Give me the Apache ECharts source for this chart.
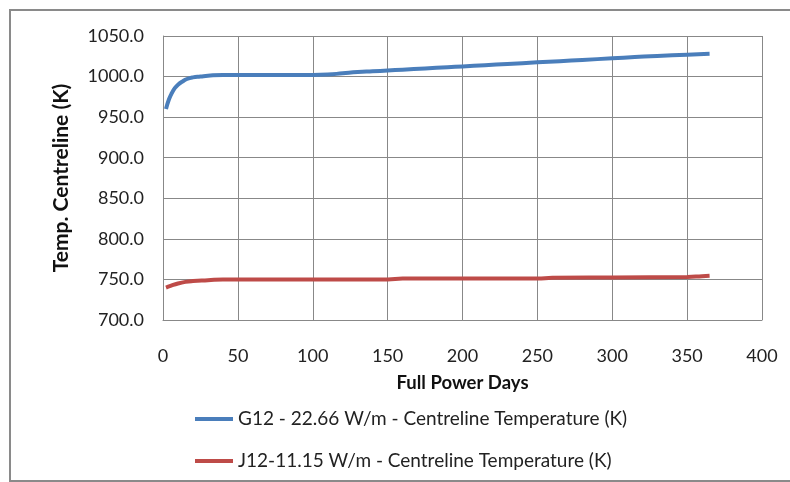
<!DOCTYPE html>
<html>
<head>
<meta charset="utf-8">
<script src="https://cdn.jsdelivr.net/npm/echarts@6/dist/echarts.min.js"></script>
<style>html,body{margin:0;padding:0;background:#fff}#c{width:790px;height:482px}</style>
</head>
<body>
<div id="c"></div>
<script>
var seriesNames = ['G12 - 22.66 W/m - Centreline Temperature (K)', 'J12-11.15 W/m - Centreline Temperature (K)'];
var g12Days = [2,4,6,8,10,13,16,20,25,30,40,50,60,80,100,110,120,130,140,150,160,175,190,200,215,230,250,265,280,300,315,330,350,365];
var g12Temp = [960,972,980,986,990,994,997,999,1000,1001,1002,1002,1002,1002,1002,1002.5,1004,1005.5,1006.5,1007.5,1008.5,1010,1011.5,1012.5,1014,1015.5,1017.5,1019,1020.5,1022.5,1024,1025.5,1027,1028];
var j12Days = [2,5,10,15,20,30,40,50,100,150,160,200,250,260,300,350,360,365];
var j12Temp = [740,742,745,747,748,749,750,750,750,750,751,751,751,752,752.5,753,754,754.5];
var xTicks = {min:0, max:400, interval:50};
var yTicks = {min:700, max:1050, interval:50};

function pairs(xs, ys){ return xs.map(function(x,i){return [x, ys[i]];}); }
var font = 'Lato, "Open Sans", sans-serif';
var chart = echarts.init(document.getElementById('c'), null, {renderer:'canvas'});
chart.setOption({
  animation:false,
  backgroundColor:'#fff',
  textStyle:{fontFamily:font},
  graphic:[{type:'rect', shape:{x:10,y:10,width:800,height:471}, style:{fill:'none', stroke:'#8a8a8a', lineWidth:2}, silent:true}],
  grid:{left:163, right:28, top:36, bottom:162, containLabel:false},
  legend:{
    orient:'vertical', left:195, top:408, padding:0, itemWidth:38, itemHeight:4, itemGap:20, icon:'rect',
    textStyle:{fontSize:19, color:'#222', fontFamily:font, lineHeight:22},
    data:seriesNames
  },
  xAxis:{
    type:'value', min:xTicks.min, max:xTicks.max, interval:xTicks.interval,
    name:'Full Power Days', nameLocation:'middle', nameGap:54,
    nameTextStyle:{fontSize:18.5, fontWeight:'bold', color:'#111', fontFamily:font},
    axisLine:{show:true, lineStyle:{color:'#888'}}, axisTick:{show:false},
    axisLabel:{fontSize:18, color:'#222', margin:27, fontFamily:font},
    splitLine:{show:true, lineStyle:{color:'#888', width:1}}
  },
  yAxis:{
    type:'value', min:yTicks.min, max:yTicks.max, interval:yTicks.interval,
    name:'Temp. Centreline (K)', nameLocation:'middle', nameGap:91, nameRotate:90,
    nameTextStyle:{fontSize:21, fontWeight:'bold', color:'#111', fontFamily:font},
    axisLine:{show:true, lineStyle:{color:'#888'}}, axisTick:{show:false},
    axisLabel:{fontSize:18, color:'#222', margin:19, fontFamily:font, formatter:function(v){return v.toFixed(1);}},
    splitLine:{show:true, lineStyle:{color:'#888', width:1}}
  },
  series:[
    {name:seriesNames[0], type:'line', data:pairs(g12Days,g12Temp), smooth:true, showSymbol:false, symbol:'none',
     lineStyle:{color:'#4A7EBB', width:4}, itemStyle:{color:'#4A7EBB'}},
    {name:seriesNames[1], type:'line', data:pairs(j12Days,j12Temp), smooth:true, showSymbol:false, symbol:'none',
     lineStyle:{color:'#BE4B48', width:4}, itemStyle:{color:'#BE4B48'}}
  ]
});
</script>
</body>
</html>
